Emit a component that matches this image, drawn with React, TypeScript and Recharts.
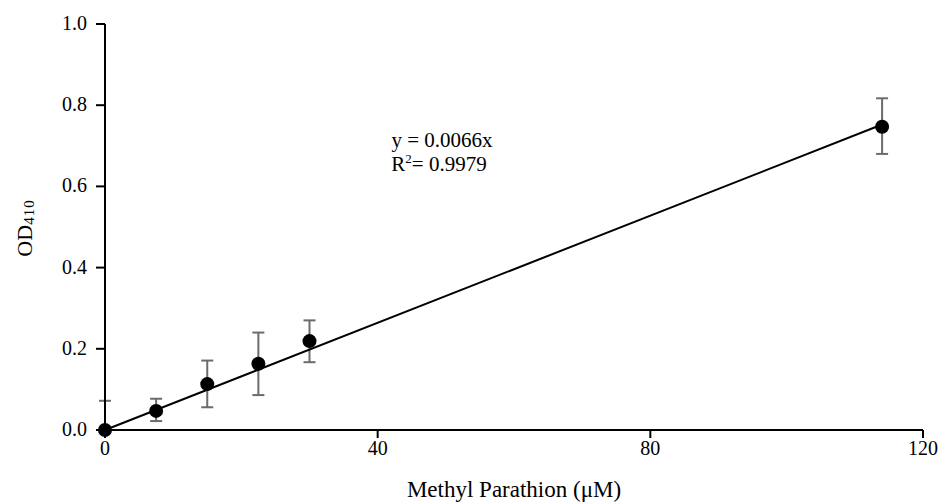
import React from "react";
import { ScatterChart, Scatter, XAxis, YAxis, ErrorBar, Customized, Label } from "recharts";

const concentrations = [0, 7.5, 15, 22.5, 30, 114];
const odValues = [0, 0.047, 0.113, 0.163, 0.219, 0.747];
const errLow = [0, 0.025, 0.057, 0.077, 0.052, 0.067];
const errHigh = [0.072, 0.03, 0.058, 0.077, 0.051, 0.07];

const trendX = [0, 114];
const trendY = [0, 0.7524];

const xTicks = [0, 40, 80, 120];
const yTicks = [0, 0.2, 0.4, 0.6, 0.8, 1.0];

const points = concentrations.map((x, i) => ({
  x,
  y: odValues[i],
  err: [errLow[i], errHigh[i]],
}));
const trend = trendX.map((x, i) => ({ x, y: trendY[i] }));

const font = "Liberation Serif";

const XTick = (props: any) => {
  const { x, y, payload } = props;
  return (
    <text x={x} y={y + 15} textAnchor="middle" style={{ fontFamily: font, fontSize: 20 }} fill="#000">
      {payload.value}
    </text>
  );
};

const YTick = (props: any) => {
  const { x, y, payload } = props;
  return (
    <text x={x} y={y + 6} textAnchor="end" style={{ fontFamily: font, fontSize: 20 }} fill="#000">
      {Number(payload.value).toFixed(1)}
    </text>
  );
};

const YLabel = (props: any) => {
  const { viewBox } = props;
  const cy = viewBox.y + viewBox.height / 2 + 1;
  const cx = 24;
  return (
    <text
      x={cx}
      y={cy}
      transform={`rotate(-90, ${cx}, ${cy})`}
      textAnchor="middle"
      dominantBaseline="central"
      style={{ fontFamily: font, fontSize: 22 }}
      fill="#000"
    >
      OD
      <tspan style={{ fontSize: 15, letterSpacing: 1 }} dy={5}>410</tspan>
    </text>
  );
};

const Equation = () => (
  <g style={{ fontFamily: font, fontSize: 21 }} fill="#000">
    <text x={442} y={147} textAnchor="middle">y = 0.0066x</text>
    <text x={439} y={171} textAnchor="middle">
      R<tspan style={{ fontSize: 13 }} dy={-8}>2</tspan>
      <tspan dy={8}>= 0.9979</tspan>
    </text>
  </g>
);

export default function App() {
  return (
    <div style={{ position: "absolute", left: 0, top: 0, background: "#fff", fontFamily: font }}>
      <ScatterChart
        width={945}
        height={503}
        margin={{ top: 24, right: 22, bottom: 43, left: 45 }}
      >
        <XAxis
          type="number"
          dataKey="x"
          domain={[0, 120]}
          ticks={xTicks}
          interval={0}
          tickLine={{ stroke: "#000", strokeWidth: 2 }}
          axisLine={{ stroke: "#000", strokeWidth: 2 }}
          tickSize={8}
          tickMargin={2}
          height={30}
          tick={<XTick />}
        >
          <Label
            value="Methyl Parathion (μM)"
            position="insideBottom"
            offset={-37}
            style={{ fill: "#000", fontFamily: font, fontSize: 23 }}
          />
        </XAxis>
        <YAxis
          type="number"
          dataKey="y"
          domain={[0, 1]}
          ticks={yTicks}
          interval={0}
          width={60}
          tickLine={{ stroke: "#000", strokeWidth: 2 }}
          axisLine={{ stroke: "#000", strokeWidth: 2 }}
          tickSize={9}
          tickMargin={9}
          tick={<YTick />}
        >
          <Label content={<YLabel />} />
        </YAxis>
        <Scatter
          data={trend}
          line={{ stroke: "#000", strokeWidth: 2 }}
          shape={() => <g />}
          isAnimationActive={false}
        />
        <Scatter data={points} fill="#000" isAnimationActive={false} shape={(p: any) => <circle cx={p.cx} cy={p.cy} r={7} fill="#000" />}>
          <ErrorBar dataKey="err" direction="y" width={6} stroke="#6b6b6b" strokeWidth={2} />
        </Scatter>
        <Customized component={Equation} />
      </ScatterChart>
    </div>
  );
}
